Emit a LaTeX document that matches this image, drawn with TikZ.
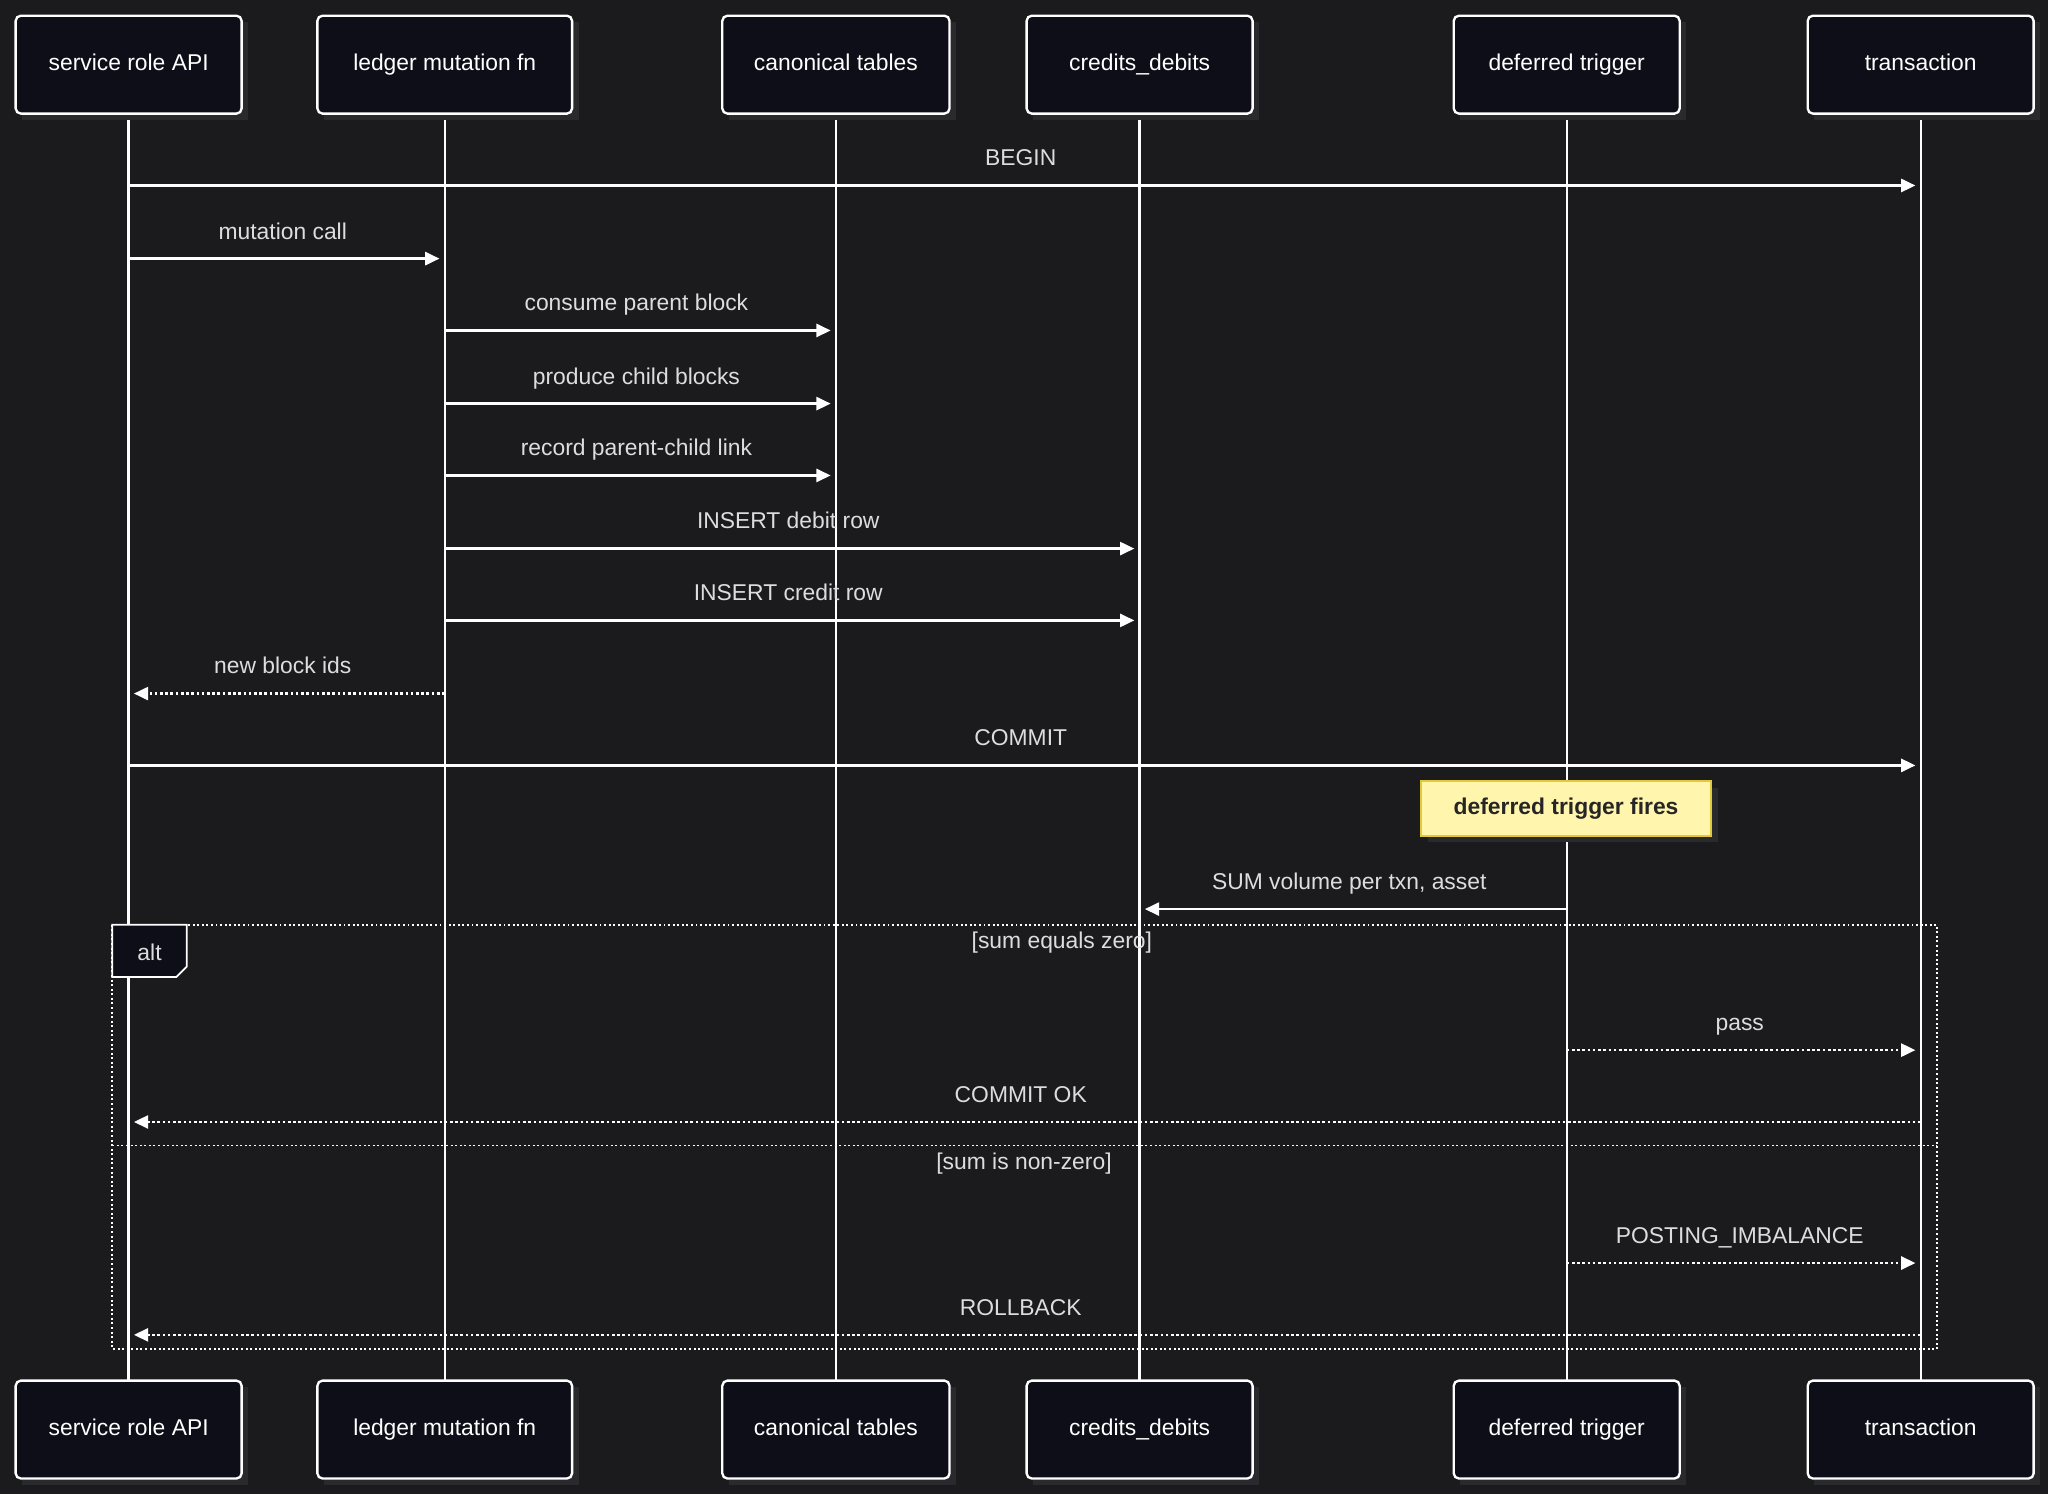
\documentclass[tikz,border=0pt]{standalone}
\usepackage{fontspec}
\setmainfont{Liberation Sans}
\usetikzlibrary{arrows.meta,calc}
\definecolor{bg}{HTML}{1B1B1E}
\definecolor{boxfill}{HTML}{0D0E17}
\definecolor{txt}{HTML}{DDDDDD}
\definecolor{notefill}{HTML}{FFF5AD}
\definecolor{noteline}{HTML}{E3C93A}
\definecolor{shadow}{HTML}{2A2A2E}
\tikzset{
 actor/.style={draw=white,line width=1.8pt,fill=boxfill,rounded corners=4pt,minimum height=75pt,text=white,font=\fontsize{17.5}{20}\selectfont,text height=12.5pt,text depth=3.5pt},
 lifeline/.style={draw=white,line width=1.8pt},
 msg/.style={draw=white,line width=2pt,-{Triangle[length=11pt,width=10pt]},shorten >=4pt},
 reply/.style={msg,dash pattern=on 2pt off 2pt},
 lbl/.style={text=txt,font=\fontsize{17.5}{20}\selectfont,anchor=base},
 framel/.style={white,line width=1.3pt,dash pattern=on 1.5pt off 2pt}
}
\begin{document}
\begin{tikzpicture}[x=1pt,y=-1pt]
\fill[bg] (0,0) rectangle (1568,1144);
\useasboundingbox (0,0) rectangle (1568,1144);
\foreach \n/\x/\w/\t in {sr/98.5/173/service role API,lm/340.5/195/ledger mutation fn,ct/640/174/canonical tables,cd/872.5/173/credits\_debits,dt/1199.5/173/deferred trigger,tx/1470.5/173/transaction}{
  \coordinate (\n) at (\x,0);
  \draw[lifeline] (\x,87) -- (\x,1057);
  \fill[shadow] (\x-\w/2+5,17) rectangle (\x+\w/2+5,92);
  \fill[shadow] (\x-\w/2+5,1062) rectangle (\x+\w/2+5,1137);
  \node[actor,minimum width=\w pt] (\n top) at (\x,49.5) {\t};
  \node[actor,minimum width=\w pt] (\n bot) at (\x,1094.5) {\t};
}
\draw[framel] (86,708) rectangle (1483,1033);
\draw[framel] (86,877) -- (1483,877);
\filldraw[draw=white,fill=boxfill,line width=1.3pt] (86,708) -- (143,708) -- (143,740) -- (135,748) -- (86,748) -- cycle;
\node[lbl,anchor=center] (altl) at (114.5,729) {alt};
\node[lbl,anchor=center] (g1) at (813,722) {[sum equals zero]};
\node[lbl,anchor=center] (g2) at (784,891) {[sum is non-zero]};
\newcommand{\mymsg}[6]{%
 \coordinate (#1a) at ($(#2)+(0,#4)$);
 \coordinate (#1b) at ($(#3)+(0,#4)$);
 \draw[#5] (#1a) -- (#1b);
 \node[lbl] (#1l) at ($(#1a)!0.5!(#1b)+(-3,-15)$) {#6};}
\mymsg{m1}{sr}{tx}{142}{msg}{BEGIN}
\mymsg{m2}{sr}{lm}{198}{msg}{mutation call}
\mymsg{m3}{lm}{ct}{253}{msg}{consume parent block}
\mymsg{m4}{lm}{ct}{309}{msg}{produce child blocks}
\mymsg{m5}{lm}{ct}{364}{msg}{record parent-child link}
\mymsg{m6}{lm}{cd}{420}{msg}{INSERT debit row}
\mymsg{m7}{lm}{cd}{475}{msg}{INSERT credit row}
\mymsg{m8}{lm}{sr}{531}{reply}{new block ids}
\mymsg{m9}{sr}{tx}{586}{msg}{COMMIT}
\fill[shadow] (1093,603) rectangle (1315,645);
\node[draw=noteline,fill=notefill,line width=2pt,minimum width=222pt,minimum height=42pt,font=\bfseries\fontsize{17.5}{20}\selectfont,text=black!85,text height=12.5pt,text depth=3.5pt] (note) at (1199,619) {deferred trigger fires};
\mymsg{m10}{dt}{cd}{696}{msg}{SUM volume per txn, asset}
\mymsg{m11}{dt}{tx}{804}{reply}{pass}
\mymsg{m12}{tx}{sr}{859}{reply}{COMMIT OK}
\mymsg{m13}{dt}{tx}{967}{reply}{POSTING\_IMBALANCE}
\mymsg{m14}{tx}{sr}{1022}{reply}{ROLLBACK}
\end{tikzpicture}
\end{document}
